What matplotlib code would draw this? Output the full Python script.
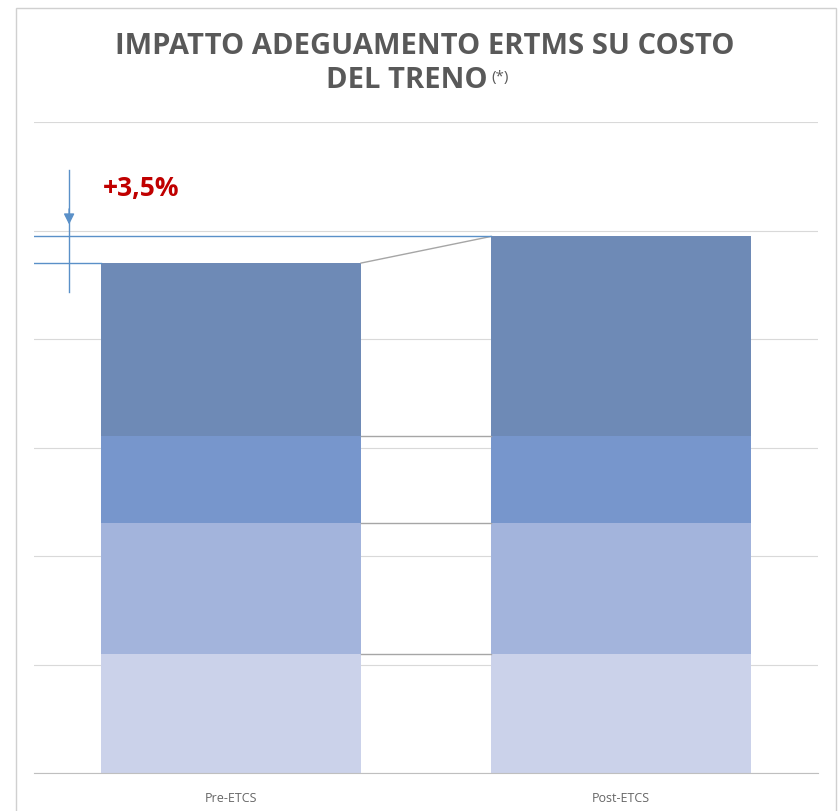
import numpy as np
import matplotlib.pyplot as plt
from matplotlib.patches import Rectangle

# Dati (scala arbitraria, griglia ogni 20)
categorie = ["Pre-ETCS", "Post-ETCS"]
strato1 = [21.9, 21.9]
strato2 = [24.1, 24.1]
strato3 = [16.2, 16.2]
strato4 = [31.8, 36.7]
etichetta_delta = "+3,5%"

colori = ["#cbd2ea", "#a3b4dc", "#7796cc", "#6e8ab6"]
strati = [strato1, strato2, strato3, strato4]

fig = plt.figure(figsize=(8.38, 8.11), dpi=100)
ax = fig.add_axes([34 / 838, 1 - 773 / 811, 784 / 838, 651 / 811])

x = np.arange(len(categorie))
w = 0.667
base = np.zeros(len(categorie))
for vals, col in zip(strati, colori):
    ax.bar(x, vals, w, bottom=base, color=col, zorder=2)
    base = base + np.array(vals)
    # linee di collegamento tra le barre
    if col != colori[-1]:
        ax.plot([x[0] + w / 2, x[1] - w / 2], [base[0], base[1]], color="#a6a6a6", lw=1, zorder=2)

tot = base
ax.plot([x[0] + w / 2, x[1] - w / 2], [tot[0], tot[1]], color="#a6a6a6", lw=1, zorder=2)

# linee di riferimento e freccia
blu = "#5a90c8"
ax.plot([-0.505, x[1] - w / 2], [tot[1], tot[1]], color=blu, lw=1, zorder=3)
ax.plot([-0.505, x[0] - w / 2], [tot[0], tot[0]], color=blu, lw=1, zorder=3)
xa = -0.415
ax.plot([xa, xa], [111.2, 88.7], color=blu, lw=1, zorder=3)
ax.annotate("", xy=(xa, 100.6), xytext=(xa, 104.5),
            arrowprops=dict(arrowstyle="-|>", color=blu, lw=1, mutation_scale=16), zorder=3)
ax.text(-0.328, 107.8, etichetta_delta, color="#c00000", fontsize=19, fontweight="bold",
        va="center", ha="left", family=["Open Sans", "DejaVu Sans"])

ax.set_xlim(-0.505, 1.505)
ax.set_ylim(0, 120)
ax.set_yticks(np.arange(0, 121, 20))
ax.yaxis.grid(True, color="#d9d9d9", lw=0.8, zorder=0)
ax.tick_params(axis="y", left=False, labelleft=False)
ax.tick_params(axis="x", length=0, pad=14, labelsize=9, labelcolor="#666666")
ax.set_xticks(x)
ax.set_xticklabels(categorie, family=["Open Sans", "DejaVu Sans"])
for s in ["top", "left", "right"]:
    ax.spines[s].set_visible(False)
ax.spines["bottom"].set_color("#bfbfbf")

# titolo
tfont = ["Open Sans", "DejaVu Sans"]
fig.text(425 / 838, 1 - 46 / 811, "IMPATTO ADEGUAMENTO ERTMS SU COSTO", ha="center", va="center",
         fontsize=21, fontweight="bold", color="#595959", family=tfont)
fig.text(407 / 838, 1 - 81 / 811, "DEL TRENO", ha="center", va="center",
         fontsize=21, fontweight="bold", color="#595959", family=tfont)
fig.text(491 / 838, 1 - 77 / 811, "(*)", ha="left", va="center",
         fontsize=11, color="#595959", family=tfont)

# bordo del riquadro
fig.patches.append(Rectangle((16 / 838, -0.02), 820 / 838, 1.02 - 8 / 811, transform=fig.transFigure,
                             fill=False, edgecolor="#d0d0d0", lw=1))

fig.savefig("out.png", dpi=100)
